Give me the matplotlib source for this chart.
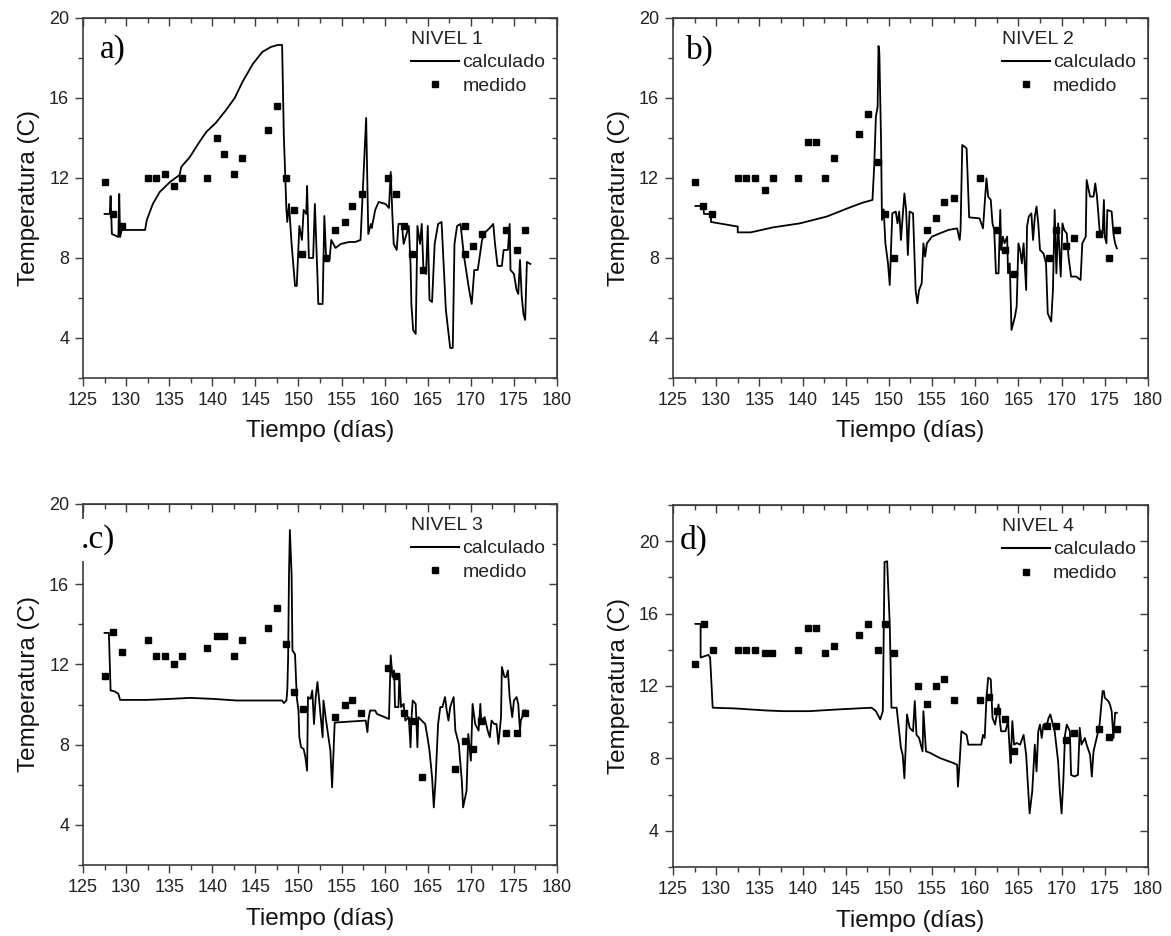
import matplotlib.pyplot as plt
from matplotlib.ticker import MultipleLocator
from matplotlib.lines import Line2D

plt.rcParams['font.family'] = ['Liberation Sans', 'DejaVu Sans']

# ---- NIVEL 1 ----
dias_calc_1 = [127.5, 128.1, 128.2, 128.35, 129.1, 129.2, 129.3, 129.5, 132.2, 132.4, 133.1, 133.9,
               135.1, 136.2, 136.4, 137.4, 138.5, 139.3, 140.4, 141.6, 142.6, 143.5, 144.7, 145.8,
               146.8, 147.6, 148.1, 148.3, 148.6, 148.7, 148.9, 149.2, 149.6, 149.8, 150.1, 150.4,
               150.6, 150.9, 151.0, 151.2, 151.7, 151.9, 152.2, 152.3, 152.8, 153.0, 153.2, 153.6,
               153.8, 154.3, 154.9, 155.9, 156.6, 157.2, 157.85, 158.1, 158.4, 158.5, 158.9, 159.3,
               160.1, 160.5, 160.7, 160.9, 161.05, 161.4, 161.6, 162.0, 162.2, 162.8, 163.0, 163.1,
               163.3, 163.6, 163.8, 164.1, 164.3, 164.5, 164.8, 165.0, 165.2, 165.5, 165.8, 166.2,
               166.6, 167.1, 167.6, 167.9, 168.1, 168.4, 168.8, 169.2, 169.8, 170.1, 170.4, 170.8,
               171.3, 171.7, 172.2, 172.6, 172.8, 173.1, 173.6, 173.8, 174.3, 174.5, 174.6, 175.0,
               175.3, 175.5, 175.7, 175.9, 176.1, 176.3, 176.5, 176.9]
temp_calc_1 = [10.2, 10.2, 11.1, 9.2, 9.05, 11.2, 9.05, 9.4, 9.4, 9.9, 10.7, 11.3,
               11.8, 12.15, 12.55, 13.05, 13.8, 14.3, 14.75, 15.4, 16.0, 16.8, 17.7, 18.3,
               18.55, 18.65, 18.65, 14.1, 10.4, 9.8, 10.7, 8.7, 6.6, 6.6, 9.6, 8.9,
               10.4, 10.2, 11.6, 8.0, 8.0, 10.7, 7.1, 5.7, 5.7, 10.1, 8.1, 7.9,
               8.9, 8.5, 8.7, 8.8, 8.8, 8.9, 15.0, 9.2, 9.7, 9.5, 10.4, 10.8,
               10.7, 10.5, 12.3, 10.1, 8.7, 8.4, 9.7, 9.7, 8.7, 9.6, 7.7, 5.7,
               4.4, 4.2, 9.6, 8.7, 9.7, 7.4, 7.2, 9.6, 5.9, 5.8, 8.7, 9.7,
               9.8, 5.4, 3.5, 3.5, 8.7, 9.6, 9.7, 8.1, 6.4, 5.7, 7.4, 7.4,
               8.9, 9.3, 9.5, 9.7, 8.7, 7.6, 7.6, 8.4, 8.4, 9.7, 7.4, 7.2,
               6.4, 6.2, 7.9, 6.1, 5.2, 4.9, 7.8, 7.7]
dias_med_1 = [127.5, 128.5, 129.5, 132.5, 133.5, 134.5, 135.5, 136.5, 139.4, 140.5, 141.4, 142.5,
              143.5, 146.5, 147.5, 148.5, 149.5, 150.4, 153.2, 154.2, 155.4, 156.2, 157.4, 160.4,
              161.3, 162.3, 163.2, 164.4, 169.3, 169.3, 170.3, 171.3, 174.1, 175.3, 176.3]
temp_med_1 = [11.8, 10.2, 9.6, 12.0, 12.0, 12.2, 11.6, 12.0, 12.0, 14.0, 13.2, 12.2,
              13.0, 14.4, 15.6, 12.0, 10.4, 8.2, 8.0, 9.4, 9.8, 10.6, 11.2, 12.0,
              11.2, 9.6, 8.2, 7.4, 8.2, 9.6, 8.6, 9.2, 9.4, 8.4, 9.4]

# ---- NIVEL 2 ----
dias_calc_2 = [127.6, 128.5, 128.6, 129.4, 129.4, 132.5, 132.5, 134.0, 136.6, 139.7, 142.8, 145.5,
               147.0, 148.1, 148.3, 148.5, 148.7, 148.8, 148.9, 149.1, 149.2, 149.4, 149.6, 149.9,
               150.1, 150.4, 150.8, 151.0, 151.2, 151.4, 151.6, 151.8, 152.0, 152.2, 152.4, 152.8,
               153.1, 153.3, 153.5, 153.8, 154.0, 154.2, 154.4, 155.0, 155.9, 156.9, 157.9, 158.2,
               158.3, 158.5, 159.0, 159.3, 160.5, 160.9, 161.3, 161.5, 161.8, 162.0, 162.2, 162.4,
               162.7, 162.9, 163.0, 163.2, 163.4, 163.7, 163.8, 164.0, 164.2, 164.6, 164.8, 165.0,
               165.2, 165.4, 165.6, 165.9, 166.0, 166.2, 166.5, 166.7, 166.9, 167.1, 167.3, 167.5,
               167.9, 168.2, 168.4, 168.8, 169.0, 169.2, 169.4, 169.6, 169.9, 170.1, 170.3, 170.6,
               170.8, 171.1, 171.7, 172.2, 172.4, 172.8, 172.9, 173.3, 173.7, 173.9, 174.1, 174.4,
               174.75, 174.9, 175.0, 175.2, 175.3, 175.8, 176.0, 176.2, 176.4]
temp_calc_2 = [10.6, 10.6, 10.2, 10.2, 9.8, 9.57, 9.28, 9.28, 9.53, 9.73, 10.07, 10.53,
               10.77, 10.9, 12.57, 15.07, 15.57, 18.6, 18.23, 13.73, 9.9, 10.43, 8.73, 7.73,
               6.65, 10.23, 10.32, 9.73, 10.32, 8.9, 10.07, 11.23, 10.4, 8.15, 10.32, 10.23,
               6.4, 5.73, 6.4, 6.73, 8.73, 8.07, 8.73, 9.07, 9.23, 9.4, 9.48, 8.9,
               9.4, 13.65, 13.48, 10.03, 9.98, 9.48, 11.98, 11.07, 10.9, 9.73, 9.4, 7.23,
               7.23, 10.4, 8.4, 9.07, 8.73, 9.07, 7.23, 7.73, 4.4, 5.07, 5.57, 8.73,
               8.4, 7.73, 8.73, 6.4, 9.57, 10.07, 10.23, 8.9, 10.07, 10.57, 9.73, 8.4,
               8.23, 7.73, 5.23, 4.82, 6.4, 10.4, 7.23, 9.73, 7.07, 9.73, 9.4, 9.23,
               8.07, 7.07, 7.07, 6.9, 8.73, 9.07, 11.9, 11.07, 11.07, 11.73, 11.07, 9.4,
               9.23, 10.9, 9.07, 8.73, 10.4, 10.32, 9.23, 8.73, 8.48]
dias_med_2 = [127.6, 128.5, 129.5, 132.5, 133.5, 134.5, 135.65, 136.6, 139.5, 140.6, 141.6, 142.6,
              143.6, 146.5, 147.6, 148.7, 149.5, 150.6, 154.4, 155.5, 156.4, 157.5, 160.5, 162.5,
              163.4, 164.5, 168.5, 169.4, 170.5, 171.4, 174.3, 175.5, 176.45]
temp_med_2 = [11.8, 10.6, 10.2, 12.0, 12.0, 12.0, 11.4, 12.0, 12.0, 13.8, 13.8, 12.0,
              13.0, 14.2, 15.2, 12.8, 10.2, 8.0, 9.4, 10.0, 10.8, 11.0, 12.0, 9.4,
              8.4, 7.2, 8.0, 9.4, 8.6, 9.0, 9.2, 8.0, 9.4]

# ---- NIVEL 3 ----
dias_calc_3 = [127.5, 128.0, 128.2, 128.7, 129.1, 129.3, 132.4, 135.1, 137.4, 140.1, 142.8, 145.5,
               148.1, 148.3, 148.6, 148.7, 148.8, 148.9, 149.0, 149.2, 149.3, 149.6, 149.8, 150.0,
               150.1, 150.3, 150.6, 150.8, 151.0, 151.1, 151.4, 151.6, 151.8, 152.0, 152.2, 152.4,
               152.8, 152.9, 153.2, 153.7, 153.9, 154.2, 157.8, 158.0, 158.1, 158.3, 158.9, 159.1,
               160.5, 160.7, 160.9, 161.1, 161.2, 161.6, 161.7, 161.9, 162.2, 162.4, 162.8, 163.0,
               163.1, 163.25, 163.6, 163.8, 163.9, 164.7, 165.0, 165.2, 165.5, 165.7, 165.9, 166.2,
               166.45, 166.7, 167.0, 167.2, 167.4, 167.6, 168.0, 168.2, 168.4, 168.6, 168.95, 169.1,
               169.5, 169.7, 170.0, 170.2, 170.5, 170.9, 171.1, 171.2, 171.6, 171.95, 172.2, 172.4,
               172.7, 172.97, 173.2, 173.5, 173.6, 173.9, 174.1, 174.3, 174.5, 174.8, 175.0, 175.3,
               175.5, 175.7, 175.8, 175.95, 176.1, 176.3]
temp_calc_3 = [13.57, 13.57, 10.7, 10.65, 10.53, 10.23, 10.23, 10.28, 10.33, 10.28, 10.2, 10.2,
               10.2, 10.07, 10.2, 10.7, 12.37, 16.5, 18.7, 16.5, 12.7, 12.5, 10.37, 9.7,
               8.37, 7.87, 7.78, 7.37, 6.7, 10.37, 10.28, 10.7, 9.03, 10.37, 11.12, 10.2,
               8.37, 10.2, 9.2, 7.7, 5.87, 9.1, 9.2, 8.62, 9.2, 9.7, 9.7, 9.53,
               9.28, 12.45, 11.37, 11.7, 9.87, 9.87, 11.53, 9.87, 10.03, 9.2, 9.37, 7.87,
               9.2, 10.2, 10.03, 7.87, 9.37, 9.03, 8.28, 7.7, 6.37, 4.87, 6.2, 9.03,
               9.87, 9.87, 10.37, 9.7, 9.2, 9.87, 10.37, 8.7, 8.37, 8.03, 6.2, 4.87,
               5.7, 8.53, 7.2, 10.03, 9.03, 8.7, 10.03, 9.2, 9.37, 8.7, 8.37, 9.2,
               9.03, 9.03, 8.03, 9.37, 11.87, 11.37, 11.37, 11.7, 10.37, 9.37, 10.2, 10.37,
               10.03, 8.7, 9.2, 9.37, 9.7, 9.7]
dias_med_3 = [127.5, 128.5, 129.5, 132.5, 133.5, 134.5, 135.6, 136.5, 139.4, 140.5, 141.4, 142.5,
              143.5, 146.5, 147.5, 148.5, 149.5, 150.5, 154.2, 155.4, 156.2, 157.3, 160.4, 161.3,
              162.3, 163.2, 164.3, 168.2, 169.3, 170.2, 171.2, 174.1, 175.4, 176.3]
temp_med_3 = [11.4, 13.6, 12.6, 13.2, 12.4, 12.4, 12.0, 12.4, 12.8, 13.4, 13.4, 12.4,
              13.2, 13.8, 14.8, 13.0, 10.6, 9.8, 9.4, 10.0, 10.2, 9.6, 11.8, 11.4,
              9.6, 9.2, 6.4, 6.8, 8.2, 7.8, 9.2, 8.6, 8.6, 9.6]

# ---- NIVEL 4 ----
dias_calc_4 = [127.6, 128.2, 128.2, 129.1, 129.3, 129.6, 132.2, 135.7, 137.7, 140.8, 143.9, 146.3,
               148.0, 148.5, 149.0, 149.3, 149.5, 149.8, 150.1, 150.3, 150.9, 151.4, 151.6, 151.8,
               152.1, 152.4, 152.8, 153.0, 153.2, 153.5, 153.9, 154.0, 154.3, 154.8, 155.9, 157.5,
               157.9, 158.0, 158.2, 158.4, 159.0, 159.2, 160.7, 160.9, 161.1, 161.3, 161.5, 161.8,
               162.0, 162.3, 162.7, 162.9, 163.0, 163.5, 163.8, 164.0, 164.1, 164.3, 164.5, 164.8,
               165.2, 165.6, 165.9, 166.1, 166.3, 166.6, 166.9, 167.1, 167.3, 167.5, 167.7, 167.9,
               168.3, 168.5, 168.7, 169.0, 169.2, 169.6, 169.8, 170.0, 170.2, 170.4, 170.6, 170.96,
               171.1, 171.5, 171.9, 172.1, 172.3, 172.7, 172.9, 173.3, 173.5, 173.7, 174.06, 174.25,
               174.4, 174.75, 174.9, 175.0, 175.4, 175.6, 175.8, 175.9, 176.0, 176.2, 176.4]
temp_calc_4 = [15.43, 15.43, 13.57, 13.72, 13.57, 10.8, 10.76, 10.65, 10.61, 10.61, 10.7, 10.76,
               10.8, 10.61, 10.15, 10.61, 18.85, 18.89, 15.43, 10.8, 10.8, 8.57, 8.2, 6.9,
               10.43, 9.69, 9.5, 11.17, 9.3, 9.13, 8.39, 10.61, 8.39, 8.3, 8.02, 7.74,
               7.65, 6.44, 7.83, 9.5, 9.3, 8.76, 8.76, 9.3, 9.13, 11.35, 12.46, 12.37,
               10.24, 9.87, 10.98, 9.87, 9.5, 9.5, 10.06, 8.39, 7.74, 10.06, 8.76, 8.85,
               8.76, 9.3, 8.2, 6.54, 4.96, 6.17, 8.76, 7.28, 9.5, 9.87, 9.13, 9.87,
               9.87, 10.24, 10.43, 9.87, 9.5, 7.83, 6.17, 4.96, 6.72, 9.3, 9.87, 9.5,
               7.09, 7.0, 7.09, 9.69, 8.76, 9.13, 8.76, 8.2, 7.0, 8.39, 9.13, 9.5,
               9.87, 11.72, 11.72, 11.35, 11.17, 10.98, 10.61, 9.87, 9.13, 10.52, 10.52]
dias_med_4 = [127.6, 128.6, 129.6, 132.5, 133.5, 134.5, 135.6, 136.5, 139.5, 140.6, 141.6, 142.6,
              143.6, 146.5, 147.6, 148.7, 149.6, 150.6, 153.4, 154.4, 155.5, 156.4, 157.5, 160.5,
              161.6, 162.5, 163.4, 164.5, 168.3, 169.4, 170.5, 171.4, 174.3, 175.5, 176.4]
temp_med_4 = [13.2, 15.4, 14.0, 14.0, 14.0, 14.0, 13.8, 13.8, 14.0, 15.2, 15.2, 13.8,
              14.2, 14.8, 15.4, 14.0, 15.4, 13.8, 12.0, 11.0, 12.0, 12.4, 11.2, 11.2,
              11.4, 10.6, 10.2, 8.4, 9.8, 9.8, 9.0, 9.4, 9.6, 9.2, 9.6]

niveles = ["NIVEL 1", "NIVEL 2", "NIVEL 3", "NIVEL 4"]
letras = ["a)", "b)", ".c)", "d)"]
series = [(dias_calc_1, temp_calc_1, dias_med_1, temp_med_1),
          (dias_calc_2, temp_calc_2, dias_med_2, temp_med_2),
          (dias_calc_3, temp_calc_3, dias_med_3, temp_med_3),
          (dias_calc_4, temp_calc_4, dias_med_4, temp_med_4)]
ymax = [20, 20, 20, 22]

# axes boxes in figure fraction (left, bottom, width, height)
boxes = [[0.0709, 0.5962, 0.4048, 0.3846],
         [0.5747, 0.5962, 0.4056, 0.3846],
         [0.0709, 0.0759, 0.4048, 0.3857],
         [0.5747, 0.0737, 0.4056, 0.3868]]
label_pos = [(0.035, 0.911), (0.028, 0.911), (-0.005, 0.90), (0.015, 0.903)]

axcol = "#3c3c3c"
fig = plt.figure(figsize=(11.71, 9.36), dpi=100)

for i in range(4):
    ax = fig.add_axes(boxes[i])
    dc, tc, dm, tm = series[i]
    ax.plot(dc, tc, color="black", lw=1.3, zorder=3)
    ax.plot(dm, tm, ls="none", marker="s", ms=4.8, color="black", zorder=4)

    ax.set_xlim(125, 180)
    ax.set_ylim(2, ymax[i])
    ax.xaxis.set_major_locator(MultipleLocator(5))
    ax.xaxis.set_minor_locator(MultipleLocator(2.5))
    ax.yaxis.set_major_locator(MultipleLocator(4))
    ax.yaxis.set_minor_locator(MultipleLocator(2))
    ax.tick_params(which="both", direction="out", top=False, right=False,
                   color=axcol, labelcolor="#222222", labelsize=13, width=1)
    ax.tick_params(which="major", length=6, pad=4)
    ax.tick_params(which="minor", length=3.5)
    for s in ax.spines.values():
        s.set_color(axcol)
        s.set_linewidth(1.2)

    # top/right ticks point inward
    top = ax.secondary_xaxis("top")
    top.xaxis.set_major_locator(MultipleLocator(5))
    top.xaxis.set_minor_locator(MultipleLocator(2.5))
    top.tick_params(which="both", direction="in", labeltop=False, color=axcol, width=1)
    top.tick_params(which="major", length=6)
    top.tick_params(which="minor", length=3.5)
    top.spines["top"].set_color(axcol)
    right = ax.secondary_yaxis("right")
    right.yaxis.set_major_locator(MultipleLocator(4))
    right.yaxis.set_minor_locator(MultipleLocator(2))
    right.tick_params(which="both", direction="in", labelright=False, color=axcol, width=1)
    right.tick_params(which="major", length=6)
    right.tick_params(which="minor", length=3.5)
    right.spines["right"].set_color(axcol)

    ax.set_xlabel("Tiempo (días)", fontsize=17.5, color="#111111")
    ax.set_ylabel("Temperatura (C)", fontsize=17.5, color="#111111")
    ax.xaxis.set_label_coords(0.5, -0.118)
    ax.yaxis.set_label_coords(-0.09, 0.5)

    handles = [Line2D([], [], color="black", lw=1.5),
               Line2D([], [], ls="none", marker="s", ms=4.8, color="black")]
    leg = ax.legend(handles, ["calculado", "medido"], title=niveles[i], alignment="left",
                    loc="upper right", bbox_to_anchor=(0.975, 0.965), frameon=False,
                    fontsize=14, title_fontsize=14, handlelength=2.5, handletextpad=0.15,
                    labelspacing=0.32, borderpad=0, borderaxespad=0)
    for t in leg.get_texts():
        t.set_color("#222222")
    leg.get_title().set_color("#222222")

    kw = dict(transform=ax.transAxes, ha="left", va="center", fontsize=24,
              family=["Liberation Serif", "DejaVu Serif"], zorder=6)
    if i == 2:
        kw["bbox"] = dict(fc="white", ec="none", pad=4)
        kw["clip_on"] = False
    ax.text(label_pos[i][0], label_pos[i][1], letras[i], **kw)

fig.savefig("out.png", dpi=100)
